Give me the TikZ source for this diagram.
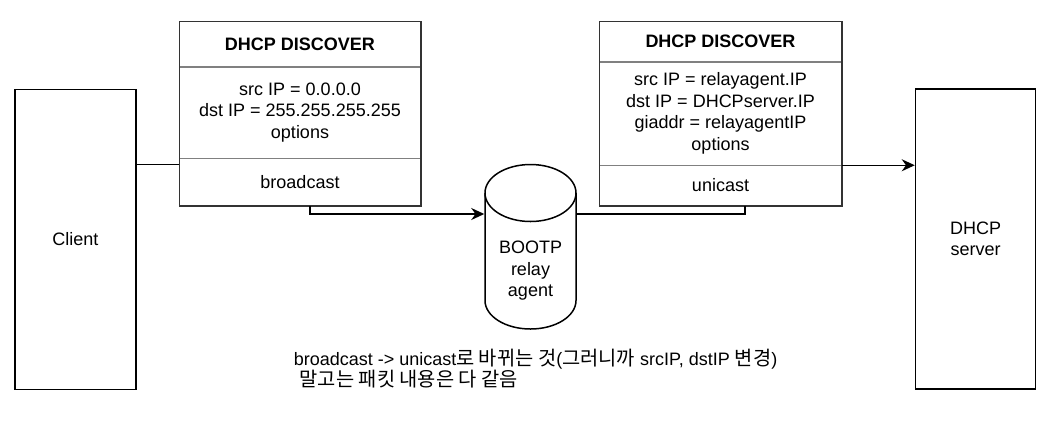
\documentclass[tikz,border=0pt]{standalone}
\usepackage{fontspec}
\setmainfont{Liberation Sans}
\newfontfamily\kr[Scale=1.1]{Noto Sans CJK KR}
\usetikzlibrary{positioning,arrows.meta}
\definecolor{boxline}{HTML}{333333}
\definecolor{rowline}{HTML}{808080}
\begin{document}
\begin{tikzpicture}[x=1pt, y=-1pt, line width=1.5pt,
    font=\fontsize{18}{21.5}\selectfont,
    host/.style={rectangle, draw=black, align=center, minimum width=121pt, minimum height=300pt},
    pktrow/.style={rectangle, inner sep=0pt, align=center, minimum width=#1},
    relaybox/.style={rectangle, inner sep=0pt, align=center, minimum width=91pt},
    line/.style={draw, -{Stealth[length=13pt, width=12pt]}},
    wire/.style={draw}]
    \useasboundingbox (0,0) rectangle (1048,440);

    \node [host] (client) at (75.5,239.5) {Client};
    \node [host, minimum width=120pt] (server) at (975.5,239) {DHCP\\server};

    % packet sent by the client
    \node [pktrow=240pt, minimum height=44pt] (ltitle) at (300,44) {\textbf{DHCP DISCOVER}};
    \node [pktrow=240pt, minimum height=90pt, below=0pt of ltitle] (lbody) {src IP = 0.0.0.0\\dst IP = 255.255.255.255\\options};
    \node [pktrow=240pt, minimum height=46pt, below=0pt of lbody] (lfoot) {broadcast};

    % packet sent by the relay
    \node [pktrow=241pt, minimum height=39pt] (rtitle) at (720.5,41.5) {\textbf{DHCP DISCOVER}};
    \node [pktrow=241pt, minimum height=102pt, below=0pt of rtitle] (rbody) {src IP = relayagent.IP\\dst IP = DHCPserver.IP\\giaddr = relayagentIP\\options};
    \node [pktrow=241pt, minimum height=39pt, below=0pt of rbody] (rfoot) {unicast};

    % relay agent drawn as a drum
    \node [relaybox] (relay) at (530.5,271) {BOOTP\\relay\\agent};
    \draw (530.5,193) ellipse [x radius=45.5pt, y radius=28.5pt];
    \draw (485,193) -- (485,300.5) arc [start angle=180, end angle=360, x radius=45.5pt, y radius=28.5pt] -- (576,193);

    \node [anchor=west, inner sep=0pt, align=left] (note) at (293,368.5) {broadcast -> unicast{\kr 로 바뀌는 것}({\kr 그러니까} srcIP, dstIP {\kr 변경})\\\hspace*{6pt}{\kr 말고는 패킷 내용은 다 같음}};

    \draw [rowline] (lbody.north west) -- (lbody.north east);
    \draw [rowline] (lfoot.north west) -- (lfoot.north east);
    \draw [rowline] (rbody.north west) -- (rbody.north east);
    \draw [rowline] (rfoot.north west) -- (rfoot.north east);
    \draw [boxline] (ltitle.north west) rectangle (lfoot.south east);
    \draw [boxline] (rtitle.north west) rectangle (rfoot.south east);

    \path [wire] (client.east |- 0,164.5) -- (lbody.west |- 0,164.5);
    \path [line] (lfoot.south -| 310,0) |- (relay.west |- 0,214);
    \path [wire] (relay.east |- 0,214) -| (rfoot.south -| 745,0);
    \path [line] (rfoot.north east) -- (server.west |- rfoot.north east);
\end{tikzpicture}
\end{document}
